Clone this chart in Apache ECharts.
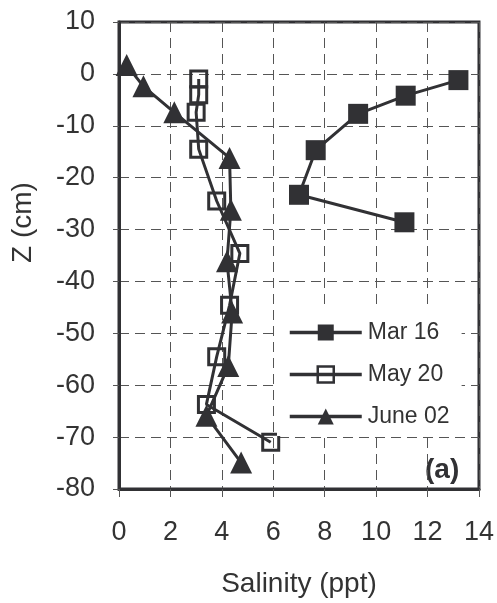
<!DOCTYPE html>
<html>
<head>
<meta charset="utf-8">
<script src="https://cdn.jsdelivr.net/npm/echarts@6/dist/echarts.min.js"></script>
<style>
html,body{margin:0;padding:0;background:#fff;}
#chart{width:497px;height:603px;}
</style>
</head>
<body>
<div id="chart"></div>
<script>
// Data
const seriesNames = ['Mar 16', 'May 20', 'June 02'];
const mar16Salinity = [13.2, 11.15, 9.3, 7.65, 7.0, 11.1];
const mar16Depth = [-1.2, -4.2, -7.7, -14.7, -23.3, -28.6];
const may20Salinity = [3.1, 3.1, 3.0, 3.1, 3.8, 4.7, 4.3, 3.8, 3.4, 5.9];
const may20Depth = [-1.0, -4.0, -7.4, -14.5, -24.5, -34.6, -44.6, -54.5, -63.7, -71.0];
const june02Salinity = [0.3, 0.95, 2.15, 4.3, 4.35, 4.2, 4.4, 4.25, 3.4, 4.75];
const june02Depth = [1.7, -2.4, -7.4, -16.2, -26.2, -36.1, -46.0, -56.3, -65.9, -74.9];

function pairs(xs, ys) { return xs.map((x, i) => [x, ys[i]]); }

const INK = '#313134';
const FONT = '"Liberation Sans", Arial, sans-serif';

const chart = echarts.init(document.getElementById('chart'), null, {renderer: 'canvas'});
chart.setOption({
  animation: false,
  backgroundColor: '#fff',
  grid: {left: 119, right: 18, top: 22, bottom: 113, show: true, borderColor: INK, borderWidth: 3, backgroundColor: 'transparent'},
  xAxis: {
    type: 'value', min: 0, max: 14, interval: 2,
    name: 'Salinity (ppt)', nameLocation: 'middle', nameGap: 81,
    nameTextStyle: {fontFamily: FONT, fontSize: 28, color: '#333'},
    axisLine: {show: true, onZero: false, lineStyle: {color: INK, width: 3}},
    axisTick: {show: true, length: 8, lineStyle: {color: '#555', width: 1}},
    axisLabel: {fontFamily: FONT, fontSize: 27, color: '#333', margin: 30},
    splitLine: {show: true, lineStyle: {color: '#555', width: 1, type: [10, 6]}}
  },
  yAxis: {
    type: 'value', min: -80, max: 10, interval: 10,
    name: 'Z (cm)', nameLocation: 'middle', nameGap: 82,
    nameTextStyle: {fontFamily: FONT, fontSize: 28, color: '#333', padding: [0, 0, 0, 66]},
    axisLine: {show: true, onZero: false, lineStyle: {color: INK, width: 3}},
    axisTick: {show: true, length: 6, lineStyle: {color: '#555', width: 1}},
    axisLabel: {fontFamily: FONT, fontSize: 27, color: '#333', margin: 24},
    splitLine: {show: true, lineStyle: {color: '#555', width: 1, type: [10, 6]}}
  },
  legend: {
    orient: 'vertical', left: 277, top: 308,
    padding: [13, 12, 8, 11],
    backgroundColor: '#fff',
    itemWidth: 72, itemHeight: 20, itemGap: 19,
    lineStyle: {width: 3.5, color: INK},
    textStyle: {fontFamily: FONT, fontSize: 23, color: '#333', padding: [0, 0, 0, 1]},
    data: [
      {name: seriesNames[0]},
      {name: seriesNames[1], itemStyle: {borderWidth: 2.5}},
      {name: seriesNames[2]}
    ]
  },
  series: [
    {
      name: seriesNames[0], type: 'line', data: pairs(mar16Salinity, mar16Depth),
      symbol: 'rect', symbolSize: 20,
      lineStyle: {color: INK, width: 3},
      itemStyle: {color: INK}
    },
    {
      name: seriesNames[1], type: 'line', data: pairs(may20Salinity, may20Depth),
      symbol: 'rect', symbolSize: 16,
      lineStyle: {color: INK, width: 3},
      itemStyle: {color: 'rgba(255,255,255,0)', borderColor: INK, borderWidth: 3}
    },
    {
      name: seriesNames[2], type: 'line', data: pairs(june02Salinity, june02Depth),
      symbol: 'triangle', symbolSize: 22,
      lineStyle: {color: INK, width: 3},
      itemStyle: {color: INK}
    }
  ],
  graphic: [{
    type: 'text', left: 425, top: 456,
    style: {text: '(a)', fontFamily: FONT, fontSize: 28, fontWeight: 'bold', fill: INK}
  }]
});
</script>
</body>
</html>
